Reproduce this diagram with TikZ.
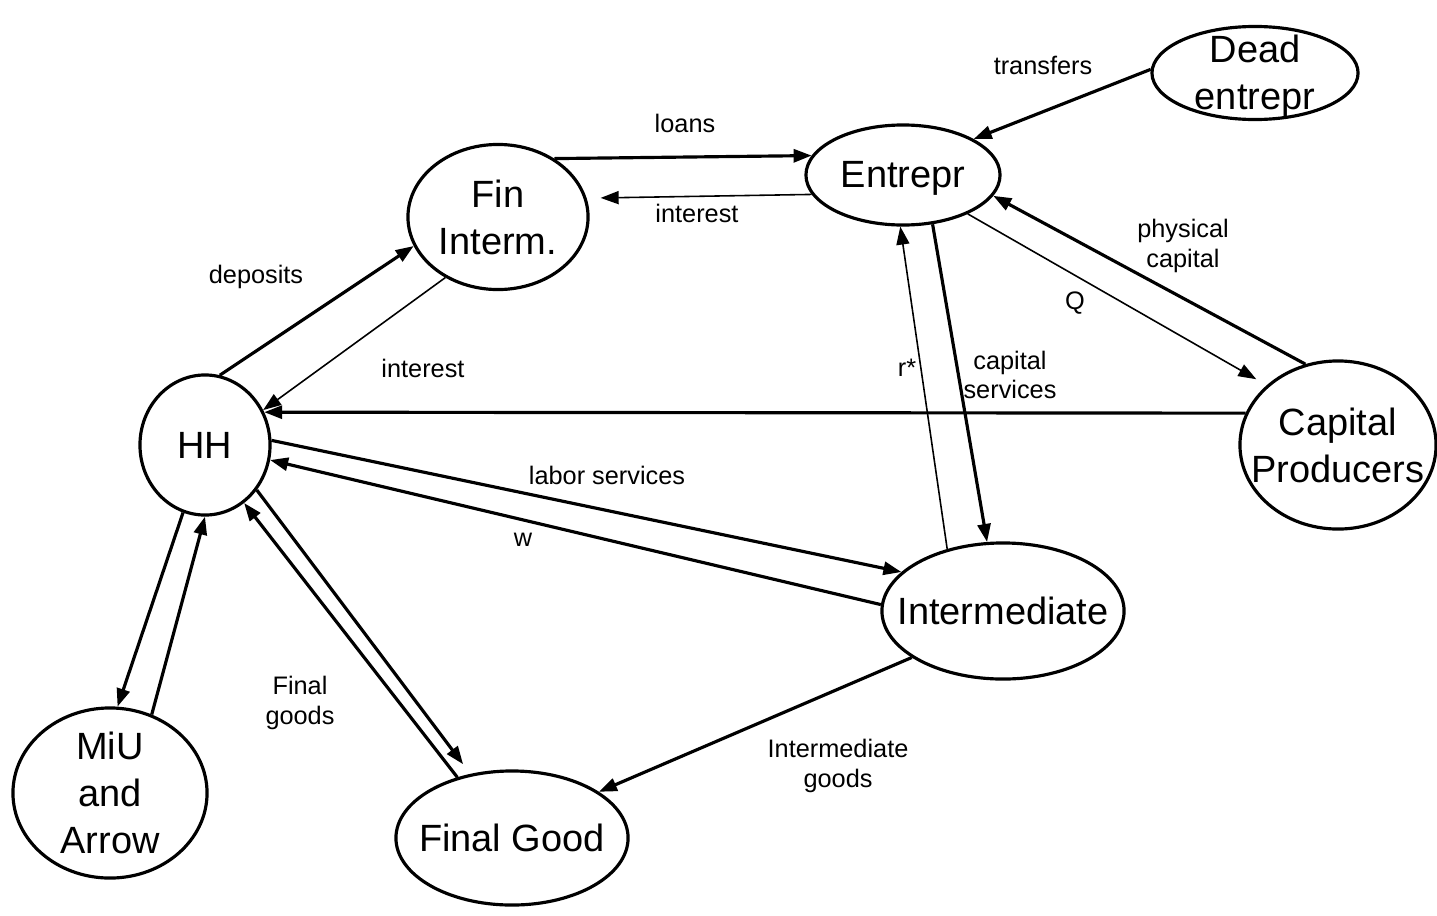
\documentclass[tikz,border=0pt]{standalone}
\usepackage{fontspec}
\setmainfont{Liberation Sans}
\usetikzlibrary{arrows.meta,shapes.geometric,positioning}
\tikzset{every label/.append style={align=center,inner sep=0pt,font=\fontsize{10.8}{13.4}\selectfont}}
\tikzset{agent/.style={draw,ellipse,line width=0.9pt,inner sep=0pt}}
\tikzset{goods/.style={line width=0.9pt,-{Triangle[length=1.8mm,width=1.3mm]}}}
\tikzset{money/.style={line width=0.45pt,-{Triangle[length=1.8mm,width=1.3mm]}}}
\tikzset{flowlbl/.style={align=center,inner sep=1pt,font=\fontsize{7.2}{8.4}\selectfont}}

\begin{document}
\begin{tikzpicture}[x=0.01cm,y=-0.01cm]
\useasboundingbox (0,0) rectangle (1437,915);
\node[agent,minimum width=2.06cm,minimum height=0.93cm,label={[yshift=-0.8pt]center:{Dead\\entrepr}}] (dead) at (1255,73) {};
\node[agent,minimum width=1.94cm,minimum height=1.00cm,label={[yshift=-1.1pt]center:{Entrepr}}] (entr) at (903,175) {};
\node[agent,minimum width=1.80cm,minimum height=1.45cm,label=center:{Fin\\Interm.}] (fin) at (498,217) {};
\node[agent,minimum width=1.30cm,minimum height=1.40cm,label=center:{HH}] (hh) at (205,445) {};
\node[agent,minimum width=1.96cm,minimum height=1.68cm,label=center:{Capital\\Producers}] (cap) at (1338,445) {};
\node[agent,minimum width=2.42cm,minimum height=1.36cm,label=center:{Intermediate}] (inter) at (1003,611) {};
\node[agent,minimum width=1.94cm,minimum height=1.70cm,label=center:{MiU\\and\\Arrow}] (miu) at (110,793) {};
\node[agent,minimum width=2.32cm,minimum height=1.34cm,label=center:{Final Good}] (final) at (512,838) {};

\draw[goods] (dead.178) -- (entr.27);
\draw[goods] (fin.46) -- (entr.168);
\draw[money,shorten >=1.4mm] (entr.192) -- (fin.12);
\draw[goods] (hh.78) -- (fin.199);
\draw[money] (fin.229) -- (hh.31);
\draw[goods] (cap.161) -- (hh.29);
\draw[goods] (cap.112) -- (entr.347);
\draw[money,shorten >=1.2mm] (entr.329) -- (cap.140);
\draw[money] (inter.132) -- (entr.267);
\draw[goods] (entr.301) -- (inter.103);
\draw[goods] (hh.4) -- (inter.159);
\draw[goods] (inter.177) -- (hh.347);
\draw[goods] (hh.252) -- (miu.85);
\draw[goods] (miu.62) -- (hh.270);
\draw[goods,shorten >=1.2mm] (hh.319) -- (final.123);
\draw[goods] (final.132) -- (hh.304);
\draw[goods] (inter.207) -- (final.28);

\node[flowlbl] (ltransfers) at (1043,65) {transfers};
\node[flowlbl] (lloans) at (685,123) {loans};
\node[flowlbl] (linterest) at (697,213) {interest};
\node[flowlbl] (ldeposits) at (256,277) {deposits};
\node[flowlbl] (linteresthh) at (423,368) {interest};
\node[flowlbl] (lphys) at (1183,246) {physical\\capital};
\node[flowlbl] (lq) at (1075,303) {Q};
\node[flowlbl] (lr) at (907,368) {r*};
\node[flowlbl] (lcapserv) at (1010,375) {capital\\services};
\node[flowlbl] (llabor) at (607,475) {labor services};
\node[flowlbl] (lw) at (523,540) {w};
\node[flowlbl] (lfinal) at (300,703) {Final\\goods};
\node[flowlbl] (linter) at (838,766) {Intermediate\\goods};
\end{tikzpicture}
\end{document}
